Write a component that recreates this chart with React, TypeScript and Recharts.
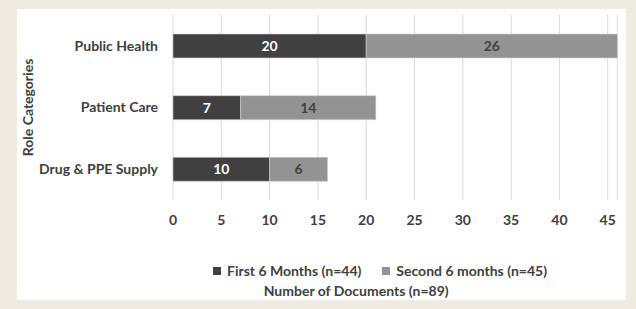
import React from "react";
import { BarChart, Bar, XAxis, YAxis, CartesianGrid, LabelList, Label } from "recharts";

const categories = ["Public Health", "Patient Care", "Drug & PPE Supply"];
const firstHalf = [20, 7, 10];
const secondHalf = [26, 14, 6];
const xTicks = [0, 5, 10, 15, 20, 25, 30, 35, 40, 45];

const seriesNames = ["First 6 Months (n=44)", "Second 6 months (n=45)"];
const seriesColors = ["#404040", "#939393"];

const data = categories.map((name, i) => ({
  name,
  first: firstHalf[i],
  second: secondHalf[i],
}));

const FONT = "Lato, 'Open Sans', sans-serif";
const TEXT = "#404040";
const FS = 14;

function RoleLabel(props: any) {
  const vb = props.viewBox || {};
  const x = vb.x + 27;
  const y = vb.y + vb.height / 2;
  return (
    <text
      x={x}
      y={y}
      transform={`rotate(-90 ${x} ${y})`}
      textAnchor="middle"
      dominantBaseline="central"
      fill={TEXT}
      fontSize={FS}
      fontWeight={700}
      fontFamily={FONT}
    >
      Role Categories
    </text>
  );
}

export default function App() {
  return (
    <div
      style={{
        position: "fixed",
        left: 0,
        top: 0,
        width: 636,
        height: 309,
        background: "#efebe1",
        fontFamily: FONT,
      }}
    >
      <div
        style={{
          position: "absolute",
          left: 17,
          top: 9,
          width: 609,
          height: 291,
          background: "#ffffff",
        }}
      />
      <div style={{ position: "absolute", left: 0, top: 0 }}>
        <BarChart
          layout="vertical"
          width={636}
          height={309}
          data={data}
          margin={{ top: 15, right: 18.6, left: 0, bottom: 9 }}
        >
          <CartesianGrid horizontal={false} stroke="#d9d9d9" />
          <XAxis
            type="number"
            domain={[0, 46]}
            ticks={xTicks}
            interval={0}
            height={100}
            axisLine={false}
            tickLine={false}
            tickSize={6}
            tickMargin={9}
            tick={{ fill: TEXT, fontSize: FS, fontWeight: 700, fontFamily: FONT }}
          >
            <Label
              value="Number of Documents (n=89)"
              position="insideBottom"
              offset={4}
              dx={-39}
              fill={TEXT}
              fontSize={FS}
              fontWeight={700}
              fontFamily={FONT}
            />
          </XAxis>
          <YAxis
            type="category"
            dataKey="name"
            width={173}
            axisLine={false}
            tickLine={false}
            tickSize={6}
            tickMargin={9}
            tick={{ fill: TEXT, fontSize: FS, fontWeight: 700, fontFamily: FONT }}
          >
            <Label content={<RoleLabel />} />
          </YAxis>
          <Bar
            dataKey="first"
            stackId="a"
            fill={seriesColors[0]}
            stroke="#d0d0d0"
            strokeWidth={0.6}
            barSize={24}
            isAnimationActive={false}
          >
            <LabelList
              dataKey="first"
              position="center"
              fill="#ffffff"
              fontSize={FS}
              fontWeight={700}
              fontFamily={FONT}
            />
          </Bar>
          <Bar
            dataKey="second"
            stackId="a"
            fill={seriesColors[1]}
            stroke="#d0d0d0"
            strokeWidth={0.6}
            barSize={24}
            isAnimationActive={false}
          >
            <LabelList
              dataKey="second"
              position="center"
              fill={TEXT}
              fontSize={FS}
              fontWeight={700}
              fontFamily={FONT}
            />
          </Bar>
        </BarChart>
      </div>
      <div
        style={{
          position: "absolute",
          left: 213,
          top: 262,
          display: "flex",
          alignItems: "center",
          color: TEXT,
          fontSize: FS,
          fontWeight: 700,
          whiteSpace: "nowrap",
        }}
      >
        {seriesNames.map((s, i) => (
          <div key={s} style={{ display: "flex", alignItems: "center", marginRight: 21 }}>
            <span
              style={{
                display: "inline-block",
                width: 8,
                height: 8,
                background: seriesColors[i],
                marginRight: 6,
              }}
            />
            <span>{s}</span>
          </div>
        ))}
      </div>
    </div>
  );
}
